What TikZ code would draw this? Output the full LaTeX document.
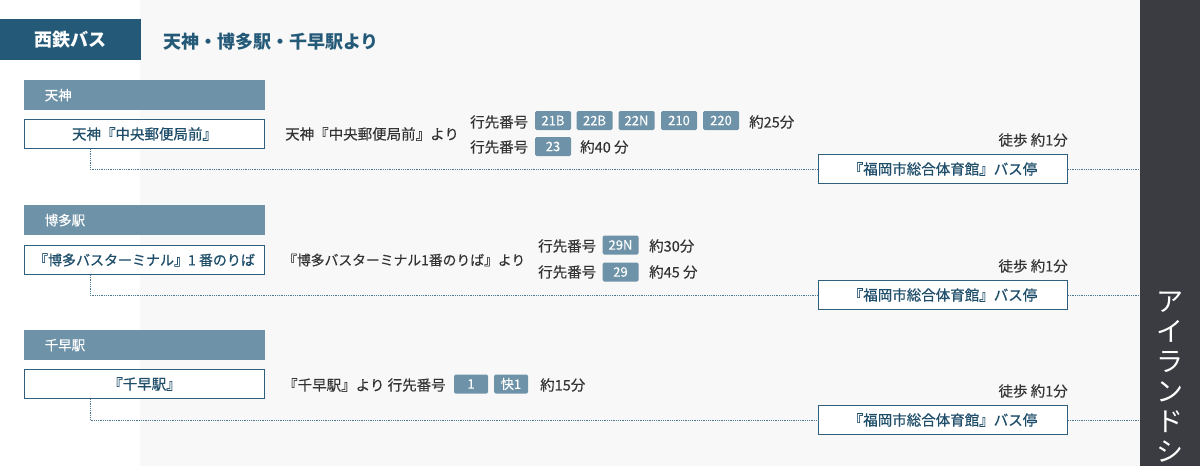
\documentclass[tikz,border=0pt]{standalone}
\usepackage{fontspec}
\setmainfont{Noto Sans CJK JP}
\newfontfamily\medfont{Noto Sans CJK JP}[BoldFont={Noto Sans CJK JP}, BoldFeatures={FakeBold=0.6}]
\newfontfamily\lightmed{Noto Sans CJK JP}[BoldFont={Noto Sans CJK JP}, BoldFeatures={FakeBold=0.25}]
\definecolor{navy}{HTML}{245A78}
\definecolor{secfill}{HTML}{6E93A8}
\definecolor{boxline}{HTML}{2F5F7C}
\definecolor{boxtext}{HTML}{1F4E6B}
\definecolor{body}{HTML}{333333}
\definecolor{paper}{HTML}{F8F8F8}
\definecolor{panel}{HTML}{3B3C41}
\definecolor{dotc}{HTML}{4A7893}
\tikzset{
  f14/.style={font=\fontsize{14.5}{15}\selectfont\lightmed\bfseries},
  fbox/.style={font=\fontsize{14.5}{15}\selectfont\medfont\bfseries},
  sec/.style={fill=secfill, text=white, minimum height=30pt, text width=200pt, inner xsep=20.5pt, inner ysep=0pt, align=left, font=\fontsize{13.5}{14}\selectfont\lightmed\bfseries},
  stopbox/.style={draw=boxline, line width=1.1pt, fill=white, minimum width=240pt, minimum height=29pt, inner sep=0pt, text=boxtext, fbox},
  destbox/.style={draw=boxline, line width=1.1pt, fill=white, minimum width=249pt, minimum height=29pt, inner sep=0pt, text=boxtext, fbox},
  txt/.style={inner sep=0pt, text=body, anchor=west, f14},
  walk/.style={inner sep=0pt, text=body, anchor=east, f14},
  badge/.style={fill=secfill, rounded corners=1.5pt, minimum width=36pt, minimum height=19pt, inner sep=0pt, text=white, font=\fontsize{13}{13}\selectfont\lightmed\bfseries},
  dotline/.style={draw=dotc, line width=0.8pt, dash pattern=on 0.7pt off 1.1pt},
}
\begin{document}
\begin{tikzpicture}[x=1pt,y=-1pt]
\useasboundingbox (0,0) rectangle (1200,466);
\clip (0,0) rectangle (1200,466);
\fill[white] (0,0) rectangle (140,466);
\fill[paper] (140,0) rectangle (1140,466);
\node[fill=panel, minimum width=60pt, minimum height=466pt, inner sep=0pt, anchor=north west] (panel) at (1140,0) {};
\node[anchor=north, inner sep=0pt, text=white, align=center, font=\fontsize{27}{30}\selectfont] (vt) at (1170,292) {ア\\イ\\ラ\\ン\\ド\\シ};
% header
\node[fill=navy, minimum width=141pt, minimum height=41pt, inner sep=0pt, anchor=north west, text=white, font=\fontsize{18}{18}\selectfont\bfseries] (hdr) at (0,19) {西鉄バス};
\node[inner sep=0pt, anchor=west, text=navy, font=\fontsize{18}{18}\selectfont\bfseries] (title) at (163,42) {天神・博多駅・千早駅より};

% section 1
\node[sec, anchor=north west] (h1) at (24,80) {天神};
\node[stopbox] (s1) at (144.5,134) {天神『中央郵便局前』};
\node[txt] (t1) at (285,134) {天神『中央郵便局前』より};
\node[txt] (r1a) at (470,122) {行先番号};
\node[badge] (b1) at (553,120.5) {21B};
\node[badge] (b2) at (594.5,120.5) {22B};
\node[badge] (b3) at (636.5,120.5) {22N};
\node[badge] (b4) at (679,120.5) {210};
\node[badge] (b5) at (721,120.5) {220};
\node[txt] (m1a) at (749,122) {約25分};
\node[txt] (r1b) at (470,147) {行先番号};
\node[badge] (b6) at (553,146.5) {23};
\node[txt] (m1b) at (580,147) {約40 分};
\node[walk] (w1) at (1068,140) {徒歩 約1分};
\node[destbox] (d1) at (943,169) {『福岡市総合体育館』バス停};
\draw[dotline] ([xshift=-54.5pt]s1.south) |- (d1.west);
\draw[dotline] (d1.east) -- (d1.east -| panel.west);

% section 2
\node[sec, anchor=north west] (h2) at (24,205) {博多駅};
\node[stopbox, font=\fontsize{14}{15}\selectfont\medfont\bfseries] (s2) at (144.5,260) {『博多バスターミナル』1 番のりば};
\node[txt, font=\fontsize{13.8}{15}\selectfont\lightmed\bfseries] (t2) at (283,260) {『博多バスターミナル1番のりば』より};
\node[txt] (r2a) at (538,246) {行先番号};
\node[badge] (b7) at (620.5,245) {29N};
\node[txt] (m2a) at (649,246) {約30分};
\node[txt] (r2b) at (538,272) {行先番号};
\node[badge] (b8) at (620.5,272) {29};
\node[txt] (m2b) at (649,272) {約45 分};
\node[walk] (w2) at (1068,266) {徒歩 約1分};
\node[destbox] (d2) at (943,295) {『福岡市総合体育館』バス停};
\draw[dotline] ([xshift=-54.5pt]s2.south) |- (d2.west);
\draw[dotline] (d2.east) -- (d2.east -| panel.west);

% section 3
\node[sec, anchor=north west] (h3) at (24,330) {千早駅};
\node[stopbox] (s3) at (144.5,384) {『千早駅』};
\node[txt] (t3) at (283,385) {『千早駅』より\ 行先番号};
\node[badge, minimum width=34pt] (b9) at (471,384) {1};
\node[badge, minimum width=34pt] (b10) at (511,384) {快1};
\node[txt] (m3) at (540,385) {約15分};
\node[walk] (w3) at (1068,391) {徒歩 約1分};
\node[destbox] (d3) at (943,420) {『福岡市総合体育館』バス停};
\draw[dotline] ([xshift=-54.5pt]s3.south) |- (d3.west);
\draw[dotline] (d3.east) -- (d3.east -| panel.west);
\end{tikzpicture}
\end{document}
